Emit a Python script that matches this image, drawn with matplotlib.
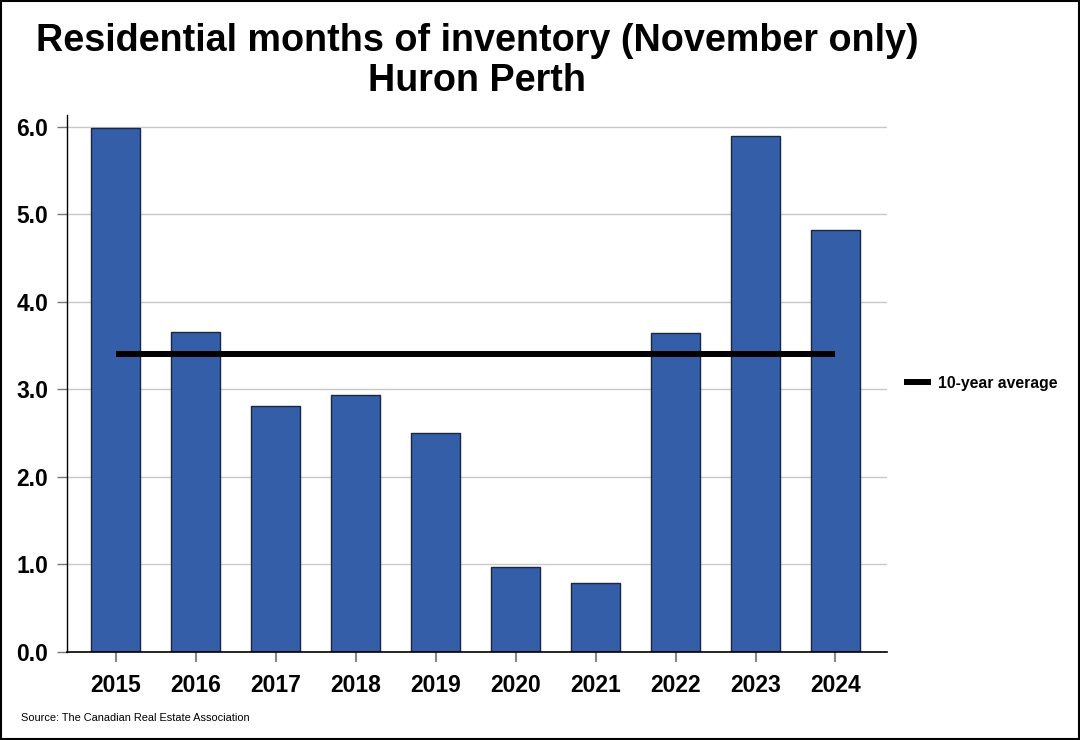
import matplotlib
matplotlib.use("Agg")
import matplotlib.pyplot as plt
from matplotlib.lines import Line2D
import numpy as np

plt.rcParams["font.family"] = ["Liberation Sans", "DejaVu Sans"]

years = ["2015", "2016", "2017", "2018", "2019", "2020", "2021", "2022", "2023", "2024"]
inventory = [5.99, 3.66, 2.81, 2.94, 2.50, 0.97, 0.79, 3.65, 5.90, 4.82]
ten_year_avg = 3.41

fig = plt.figure(figsize=(10.8, 7.4), dpi=100)
ax = fig.add_axes([0.062, 0.119, 0.759, 0.726])

x = np.arange(len(years))
ax.bar(x, inventory, width=0.61, color="#345EA8", edgecolor="#1a2740", linewidth=1.0, zorder=2)
ax.plot([x[0], x[-1]], [ten_year_avg] * 2, color="black", linewidth=4.3, zorder=3, solid_capstyle="butt")

ax.set_xlim(-0.61, 9.64)
ax.set_ylim(0, 6.14)
ax.set_yticks(np.arange(0, 7, 1))
ax.set_yticklabels([f"{v:.1f}" for v in range(7)])
ax.set_xticks(x)
ax.set_xticklabels(years)
ax.grid(axis="y", color="#c8c8c8", linewidth=1.0, zorder=0)
ax.set_axisbelow(True)

for side in ["top", "right"]:
    ax.spines[side].set_visible(False)
ax.spines["left"].set_linewidth(1.0)
ax.spines["bottom"].set_linewidth(1.2)
ax.tick_params(axis="y", length=7, width=1.0, color="#777777", labelsize=16.5, pad=6.5)
ax.tick_params(axis="x", length=7.5, width=1.5, color="#888888", labelsize=16.5, pad=8.5)
for lbl in ax.get_xticklabels() + ax.get_yticklabels():
    lbl.set_fontweight("bold")

fig.text(0.442, 0.945, "Residential months of inventory (November only)", ha="center", va="center",
         fontsize=27.2, fontweight="bold")
fig.text(0.442, 0.891, "Huron Perth", ha="center", va="center", fontsize=27.2, fontweight="bold")

handle = Line2D([], [], color="black", linewidth=4.3)
fig.legend([handle], ["10-year average"], loc="center left", bbox_to_anchor=(0.827, 0.482),
           frameon=False, prop={"weight": "bold", "size": 11.3}, handlelength=1.35, handletextpad=0.6)

fig.text(0.019, 0.03, "Source: The Canadian Real Estate Association", fontsize=7.9, va="center")

fig.patches.append(plt.Rectangle((0.0005, 0.0007), 0.999, 0.9986, transform=fig.transFigure,
                                 fill=False, edgecolor="black", linewidth=1.5))

fig.savefig("out.png", dpi=100)
